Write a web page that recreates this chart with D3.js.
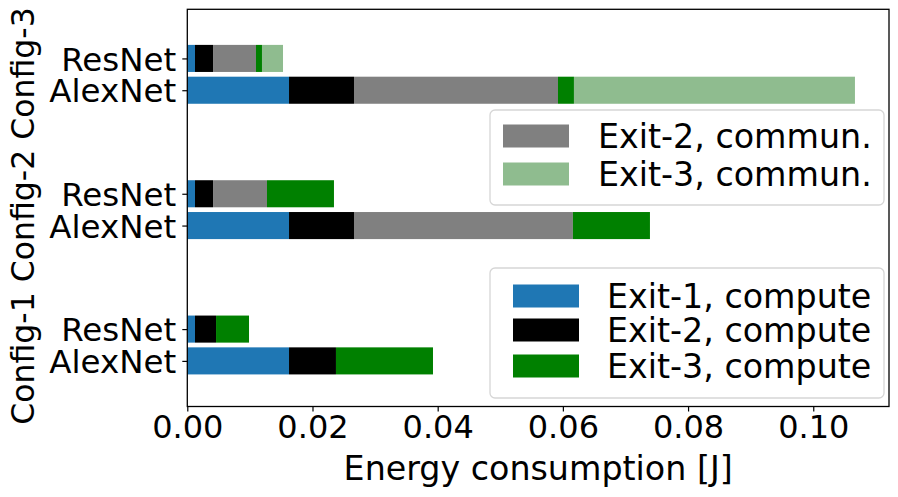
<!DOCTYPE html>
<html>
<head>
<meta charset="utf-8">
<script src="https://cdn.jsdelivr.net/npm/d3@7"></script>
<style>
  body { margin: 0; background: #fff; }
  text { font-family: "DejaVu Sans", sans-serif; fill: #000; }
</style>
</head>
<body>
<div id="chart"></div>
<script>
// rows: Config-1 AlexNet, Config-1 ResNet, Config-2 AlexNet, ... Config-3 ResNet
var configs = ["Config-1", "Config-2", "Config-3"];
var models = ["AlexNet", "ResNet"];

var exit1Compute = [0.01625, 0.00123, 0.01625, 0.00123, 0.01625, 0.00123];
var exit2Compute = [0.0075, 0.00336, 0.01038, 0.00288, 0.01038, 0.00288];
var exit2Commun  = [0, 0, 0.03497, 0.00862, 0.03259, 0.00686];
var exit3Compute = [0.0155, 0.00527, 0.01231, 0.0107, 0.00255, 0.00096];
var exit3Commun  = [0, 0, 0, 0, 0.04489, 0.00336];

var xTicks = [0, 0.02, 0.04, 0.06, 0.08, 0.10];

var seriesNames = ["Exit-1, compute", "Exit-2, compute", "Exit-2, commun.", "Exit-3, compute", "Exit-3, commun."];
var seriesColors = ["#1f77b4", "#000000", "#808080", "#008000", "#8fbc8f"];

var svgWidth = 898, svgHeight = 497;
var margin = { top: 9.3, right: 9, bottom: 90.5, left: 187.3 };
var width = svgWidth - margin.left - margin.right;
var height = svgHeight - margin.top - margin.bottom;

var svg = d3.select("#chart").append("svg")
  .attr("width", svgWidth)
  .attr("height", svgHeight);

var chartGroup = svg.append("g")
  .attr("transform", `translate(${margin.left}, ${margin.top})`);

// build rows table
var rows = [];
configs.forEach(function(c, ci) {
  models.forEach(function(m, mi) {
    var i = ci * 2 + mi;
    rows.push({
      config: c, model: m, pos: ci + mi * 0.235,
      "Exit-1, compute": exit1Compute[i],
      "Exit-2, compute": exit2Compute[i],
      "Exit-2, commun.": exit2Commun[i],
      "Exit-3, compute": exit3Compute[i],
      "Exit-3, commun.": exit3Commun[i]
    });
  });
});

var stacked = d3.stack().keys(seriesNames)(rows);

var xScale = d3.scaleLinear().domain([0, 0.1121]).range([0, width]);
var yScale = d3.scaleLinear().domain([-0.337, 2.598]).range([height, 0]);
var barH = yScale(0) - yScale(0.2);

// bars
stacked.forEach(function(layer, li) {
  chartGroup.append("g")
    .attr("fill", seriesColors[li])
    .selectAll("rect")
    .data(layer)
    .enter().append("rect")
    .attr("x", d => xScale(d[0]))
    .attr("width", d => Math.max(0, xScale(d[1]) - xScale(d[0])))
    .attr("y", d => yScale(d.data.pos) - barH / 2)
    .attr("height", barH);
});

// axes
var bottomAxis = d3.axisBottom(xScale).tickValues(xTicks).tickFormat(d3.format(".2f")).tickSizeInner(5).tickSizeOuter(0).tickPadding(4);
var leftAxis = d3.axisLeft(yScale).tickValues(rows.map(d => d.pos)).tickFormat((d, i) => rows[i].model).tickSizeInner(5).tickSizeOuter(0).tickPadding(6);

var xg = chartGroup.append("g")
  .attr("transform", `translate(0, ${height})`)
  .call(bottomAxis);
xg.select(".domain").remove();
xg.selectAll("text").attr("font-size", 32).attr("font-family", "DejaVu Sans");
xg.selectAll("line").attr("stroke-width", 1.2);

var yg = chartGroup.append("g").call(leftAxis);
yg.select(".domain").remove();
yg.selectAll("text").attr("font-size", 32.5).attr("font-family", "DejaVu Sans").attr("dy", "0.36em");
yg.selectAll("line").attr("stroke-width", 1.2);

// frame
chartGroup.append("rect")
  .attr("width", width).attr("height", height)
  .attr("fill", "none").attr("stroke", "#000").attr("stroke-width", 1.3);

// axis labels
svg.append("text")
  .attr("transform", `translate(${margin.left + width / 2}, 480)`)
  .attr("text-anchor", "middle")
  .attr("font-size", 33.3)
  .text("Energy consumption [J]");

svg.append("text")
  .attr("transform", "translate(34, 216) rotate(-90)")
  .attr("text-anchor", "middle")
  .attr("font-size", 31.5)
  .text("Config-1 Config-2 Config-3");

// legends
function drawLegend(items, x, y, w, h, rowY, patchX, textX) {
  var lg = svg.append("g").attr("transform", `translate(${x}, ${y})`);
  lg.append("rect")
    .attr("width", w).attr("height", h).attr("rx", 5)
    .attr("fill", "#fff").attr("fill-opacity", 0.8)
    .attr("stroke", "#d6d6d6").attr("stroke-width", 1.3);
  items.forEach(function(k, i) {
    var idx = seriesNames.indexOf(k);
    lg.append("rect")
      .attr("x", patchX).attr("y", rowY[i] - 11.5)
      .attr("width", 66).attr("height", 23)
      .attr("fill", seriesColors[idx]);
    lg.append("text")
      .attr("x", textX).attr("y", rowY[i])
      .attr("dy", "0.36em")
      .attr("font-size", 33.3)
      .text(k);
  });
}

drawLegend(["Exit-2, commun.", "Exit-3, commun."], 490, 110, 394, 95, [26, 64], 13, 108);
drawLegend(["Exit-1, compute", "Exit-2, compute", "Exit-3, compute"], 490, 268, 394, 130, [28, 62, 98], 23, 117);
</script>
</body>
</html>
